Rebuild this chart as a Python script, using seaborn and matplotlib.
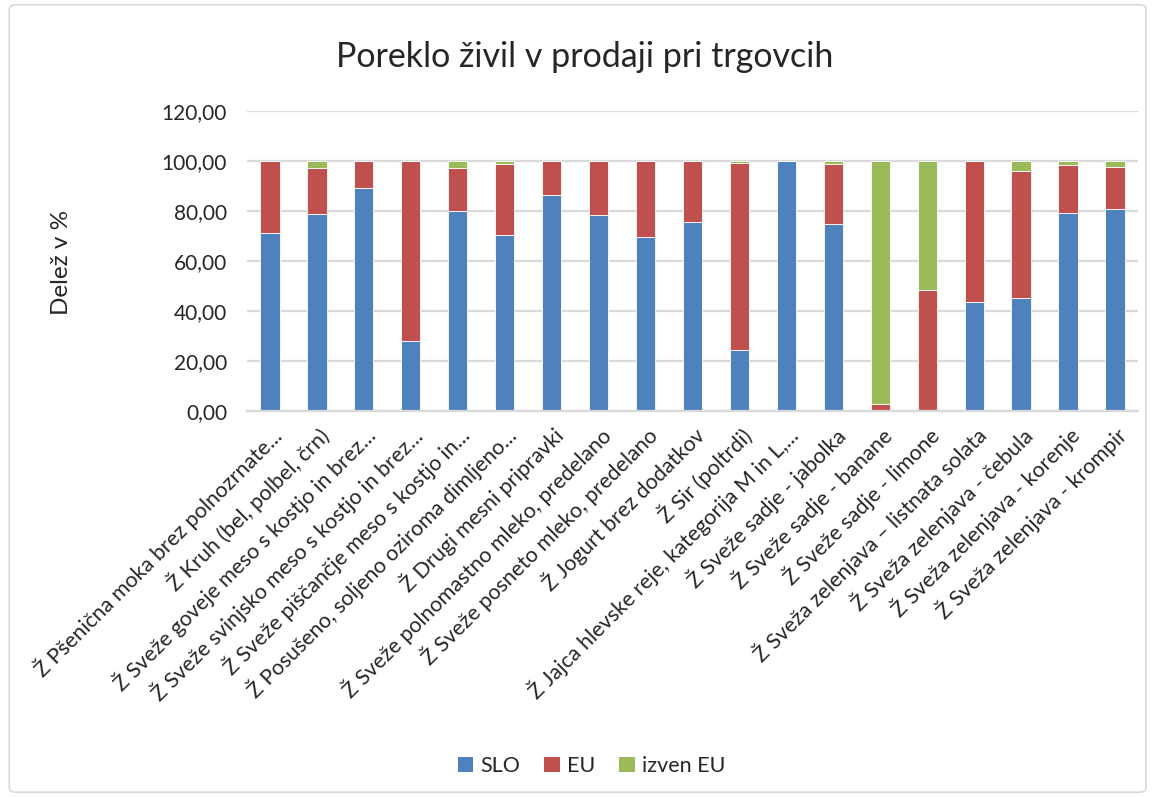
import matplotlib
matplotlib.use("Agg")
import matplotlib.pyplot as plt
import seaborn as sns
import pandas as pd
import numpy as np
from matplotlib.patches import FancyBboxPatch, Patch

categories = [
    "Ž Pšenična moka brez polnozrnate...",
    "Ž Kruh (bel, polbel, črn)",
    "Ž Sveže goveje meso s kostjo in brez...",
    "Ž Sveže svinjsko meso s kostjo in brez...",
    "Ž Sveže piščančje meso s kostjo in...",
    "Ž Posušeno, soljeno oziroma dimljeno...",
    "Ž Drugi mesni pripravki",
    "Ž Sveže polnomastno mleko, predelano",
    "Ž Sveže posneto mleko, predelano",
    "Ž Jogurt brez dodatkov",
    "Ž Sir (poltrdi)",
    "Ž Jajca hlevske reje, kategorija M in L,...",
    "Ž Sveže sadje - jabolka",
    "Ž Sveže sadje - banane",
    "Ž Sveže sadje - limone",
    "Ž Sveža zelenjava – listnata solata",
    "Ž Sveža zelenjava - čebula",
    "Ž Sveža zelenjava - korenje",
    "Ž Sveža zelenjava - krompir",
]
slo = [71.4, 79.0, 89.2, 28.0, 80.0, 70.6, 86.6, 78.5, 69.8, 75.7, 24.3, 100.0, 74.7, 0.0, 0.0, 43.5, 45.3, 79.3, 80.9]
eu = [28.6, 18.4, 10.8, 72.0, 17.4, 28.2, 13.4, 21.5, 30.2, 24.3, 74.8, 0.0, 24.0, 2.7, 48.5, 56.5, 50.7, 19.1, 16.9]
izven = [0.0, 2.6, 0.0, 0.0, 2.6, 1.2, 0.0, 0.0, 0.0, 0.0, 0.9, 0.0, 1.3, 97.3, 51.5, 0.0, 4.0, 1.6, 2.2]
series_names = ["SLO", "EU", "izven EU"]
colors = ["#4F81BD", "#C0504D", "#9BBB59"]
yticks = [0, 20, 40, 60, 80, 100, 120]

sns.set_theme(style="white")
plt.rcParams['font.family'] = ['Lato', 'DejaVu Sans']

fig = plt.figure(figsize=(11.53, 7.97), dpi=100)
ax = fig.add_axes([0.2138, 0.4843, 0.7736, 0.3764])

df = pd.DataFrame({"cat": categories, "SLO": slo, "EU": eu, "izven EU": izven})
bottom = np.zeros(len(categories))
for name, col in zip(series_names, colors):
    sns.barplot(data=df, x="cat", y=name, order=categories, color=col, width=0.41,
                bottom=bottom, ax=ax, edgecolor="white", linewidth=0.6, saturation=1)
    bottom = bottom + df[name].values

ax.set_ylim(0, 120)
ax.set_xlim(-0.5, len(categories) - 0.5)
ax.set_yticks(yticks)
ax.set_yticklabels([f"{v:.2f}".replace(".", ",") for v in yticks], fontsize=15)
ax.yaxis.grid(True, color="#D9D9D9", linewidth=1.6)
ax.set_axisbelow(True)
for s in ["top", "right", "left"]:
    ax.spines[s].set_visible(False)
ax.spines["bottom"].set_color("#D9D9D9")
ax.spines["bottom"].set_linewidth(1.6)
ax.tick_params(axis="y", length=0, pad=14)
ax.tick_params(axis="x", length=0, pad=9)
ax.set_xticks(range(len(categories)))
ax.set_xticklabels(categories, rotation=45, ha="right", rotation_mode="anchor", fontsize=15.5)
ax.set_xlabel("")
ax.set_ylabel("")

fig.text(61 / 1153, 1 - 262 / 797, "Delež v %", rotation=90, ha="center", va="center", fontsize=17.5)

fig.text(0.507, 0.928, "Poreklo živil v prodaji pri trgovcih", ha="center", va="center", fontsize=24.5)

handles = [Patch(facecolor=c, edgecolor="none") for c in colors]
fig.legend(handles, series_names, loc="center", bbox_to_anchor=(0.513, 0.039), ncol=3,
           frameon=False, fontsize=15.5, handlelength=0.72, handleheight=0.72,
           columnspacing=1.1, handletextpad=0.35)

border = FancyBboxPatch((0.008, 0.006), 0.986, 0.988, boxstyle="round,pad=0,rounding_size=0.006",
                        transform=fig.transFigure, fill=False, edgecolor="#D9D9D9", linewidth=1.2)
fig.patches.append(border)

fig.savefig("out.png", dpi=100)
